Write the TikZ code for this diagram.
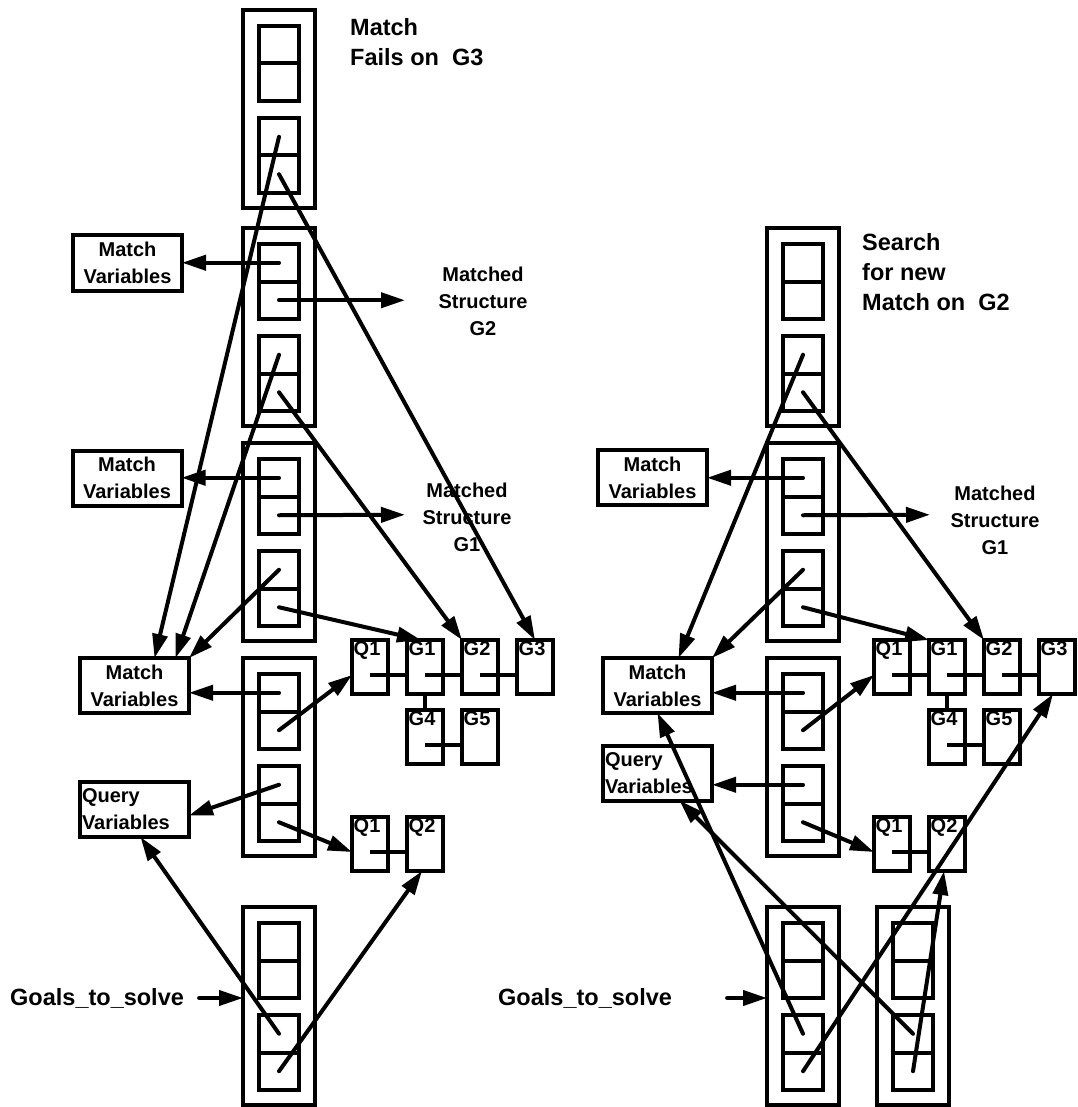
\documentclass[tikz,border=0pt]{standalone}
\usepackage{fontspec}
\setmainfont{Liberation Sans}
\usetikzlibrary{arrows.meta,positioning}

\newcommand{\txtbig}{\bfseries\fontsize{23.5}{30}\selectfont}
\newcommand{\txtmid}{\bfseries\fontsize{20}{27}\selectfont}
\newcommand{\txtcell}{\bfseries\fontsize{20}{22}\selectfont}

% goal stack frame: name, left x, top y
\newcommand{\goalframe}[3]{%
  \node[frame] (#1) at ({#2+36},{#3+99}) {};
  \node[half] (#1-1a) at ({#2+36},{#3+34.75}) {};
  \node[half] (#1-1b) at ({#2+36},{#3+72.25}) {};
  \node[half] (#1-2a) at ({#2+36},{#3+126.75}) {};
  \node[half] (#1-2b) at ({#2+36},{#3+164.25}) {};
}

\begin{document}
\begin{tikzpicture}[
    x=1pt, y=-1pt,
    frame/.style={rectangle, draw, line width=4pt, minimum width=72pt, minimum height=198pt, inner sep=0pt, outer sep=0pt},
    half/.style={rectangle, draw, line width=4pt, minimum width=40pt, minimum height=37.5pt, inner sep=0pt, outer sep=0pt},
    varbox/.style={rectangle, draw, line width=4pt, minimum width=109pt, minimum height=55pt, inner sep=2pt, outer sep=0pt, align=center, font=\txtmid},
    qbox/.style={rectangle, draw, line width=4pt, text width=105pt, minimum height=55pt, inner sep=2pt, outer sep=0pt, align=left, font=\txtmid},
    cell/.style={rectangle, draw, line width=3.5pt, minimum width=36pt, minimum height=54pt, inner sep=0pt, outer sep=0pt,
      label={[anchor=north west, inner sep=1.5pt, font=\txtcell]north west:#1}},
    note/.style={inner sep=0pt, align=left, font=\txtbig},
    midnote/.style={inner sep=0pt, align=center, font=\txtmid},
    arrow/.style={-{Triangle[length=24pt,width=15pt]}, line width=4pt, line cap=round},
    link/.style={line width=3.5pt}
  ]
  \useasboundingbox (0,0) rectangle (1077,1107);

  % Left goal stack
  \goalframe{fa}{243}{10}
  \goalframe{fb}{243}{228}
  \goalframe{fc}{243}{443}
  \goalframe{fd}{243}{658}
  \goalframe{fe}{243}{907}

  % Right goal stack
  \goalframe{ga}{767}{228}
  \goalframe{gb}{767}{443}
  \goalframe{gc}{767}{658}
  \goalframe{ge}{767}{907}
  \goalframe{gf}{877}{907}

  % Variable boxes
  \node[varbox] (mva) at (127.5,263) {Match\\Variables};
  \node[varbox] (mvb) at (127,478) {Match\\Variables};
  \node[varbox] (mvc) at (134.5,685.5) {Match\\Variables};
  \node[qbox] (qv) at (134.5,809.5) {Query\\Variables};
  \node[varbox] (rmvb) at (652.5,477.5) {Match\\Variables};
  \node[varbox] (rmvc) at (657.5,685.5) {Match\\Variables};
  \node[qbox] (rqv) at (657.5,773) {Query\\Variables};

  % Left structures
  \node[cell=Q1] (lq1) at (370,667) {};
  \node[cell=G1, right=19pt of lq1] (lg1) {};
  \node[cell=G2, right=19pt of lg1] (lg2) {};
  \node[cell=G3, right=19pt of lg2] (lg3) {};
  \node[cell=G4, below=16pt of lg1] (lg4) {};
  \node[cell=G5, right=19pt of lg4] (lg5) {};
  \node[cell=Q1] (lq1b) at (370,844) {};
  \node[cell=Q2, right=19pt of lq1b] (lq2) {};

  % Right structures
  \node[cell=Q1] (rq1) at (892,667) {};
  \node[cell=G1, right=19pt of rq1] (rg1) {};
  \node[cell=G2, right=19pt of rg1] (rg2) {};
  \node[cell=G3, right=19pt of rg2] (rg3) {};
  \node[cell=G4, below=16pt of rg1] (rg4) {};
  \node[cell=G5, right=19pt of rg4] (rg5) {};
  \node[cell=Q1] (rq1b) at (892,844) {};
  \node[cell=Q2, right=19pt of rq1b] (rq2) {};

  % Structure links
  \foreach \a/\b in {lq1/lg1, lg1/lg2, lg2/lg3, lg4/lg5, lq1b/lq2, rq1/rg1, rg1/rg2, rg2/rg3, rg4/rg5, rq1b/rq2}
    \draw[link] ([yshift=-8pt]\a.center) -- ([yshift=-8pt]\b.west);
  \draw[link] (lg1.south) -- (lg4.north);
  \draw[link] (rg1.south) -- (rg4.north);

  % Texts
  \node[note, anchor=north west] (failnote) at (350,18) {Match\\Fails on~~G3};
  \node[note, anchor=north west] (searchnote) at (862,233) {Search\\for new\\Match on~~G2};
  \node[midnote, anchor=north] (msg2) at (483,267) {Matched\\Structure\\G2};
  \node[midnote, anchor=north] (msg1) at (467,483) {Matched\\Structure\\G1};
  \node[midnote, anchor=north] (rmsg1) at (995,486) {Matched\\Structure\\G1};
  \node[note, anchor=west] (goalsl) at (10,998) {Goals\_to\_solve};
  \node[note, anchor=west] (goalsr) at (498,998) {Goals\_to\_solve};
  \coordinate (tomsg2) at (405,300.25);
  \coordinate (tomsg1) at (405,514.75);
  \coordinate (tormsg1) at (930,514.75);

  % Left pointers
  \draw[arrow] (fa-2a.center) -- ([xshift=20pt]mvc.north);
  \draw[arrow] (fa-2b.center) -- (lg3.north);
  \draw[arrow] (fb-1a.center) -- (mva.east |- fb-1a);
  \draw[arrow] (fb-1b.center) -- (tomsg2);
  \draw[arrow] (fb-2a.center) -- ([xshift=41pt]mvc.north);
  \draw[arrow] (fb-2b.center) -- (lg2.north west);
  \draw[arrow] (fc-1a.center) -- (mvb.east |- fc-1a);
  \draw[arrow] (fc-1b.center) -- (tomsg1);
  \draw[arrow] (fc-2a.center) -- (mvc.north east);
  \draw[arrow] (fc-2b.center) -- ([xshift=-4pt]lg1.north);
  \draw[arrow] (fd-1a.center) -- (mvc.east |- fd-1a);
  \draw[arrow] (fd-1b.center) -- ([yshift=-8pt]lq1.west);
  \draw[arrow] (fd-2a.center) -- ([yshift=-6pt]qv.east);
  \draw[arrow] (fd-2b.center) -- ([yshift=-8pt]lq1b.west);
  \draw[arrow] (fe-2a.center) -- ([xshift=6pt]qv.south);
  \draw[arrow] (fe-2b.center) -- ([xshift=-3pt]lq2.south);
  \draw[arrow] ([xshift=15pt]goalsl.east) -- (fe.west |- goalsl.east);

  % Right pointers
  \draw[arrow] (ga-2a.center) -- ([xshift=21pt]rmvc.north);
  \draw[arrow] (ga-2b.center) -- (rg2.north west);
  \draw[arrow] (gb-1a.center) -- (rmvb.east |- gb-1a);
  \draw[arrow] (gb-1b.center) -- (tormsg1);
  \draw[arrow] (gb-2a.center) -- (rmvc.north east);
  \draw[arrow] (gb-2b.center) -- (rg1.north west);
  \draw[arrow] (gc-1a.center) -- (rmvc.east |- gc-1a);
  \draw[arrow] (gc-1b.center) -- ([yshift=-8pt]rq1.west);
  \draw[arrow] (gc-2a.center) -- (rqv.east |- gc-2a);
  \draw[arrow] (gc-2b.center) -- ([yshift=-8pt]rq1b.west);
  \draw[arrow] (ge-2a.center) -- (rmvc.south);
  \draw[arrow] (ge-2b.center) -- ([xshift=-4pt]rg3.south);
  \draw[arrow] (gf-2a.center) -- ([xshift=22pt]rqv.south);
  \draw[arrow] (gf-2b.center) -- ([xshift=-3pt]rq2.south);
  \draw[arrow] ([xshift=55pt]goalsr.east) -- (ge.west |- goalsr.east);
\end{tikzpicture}
\end{document}
